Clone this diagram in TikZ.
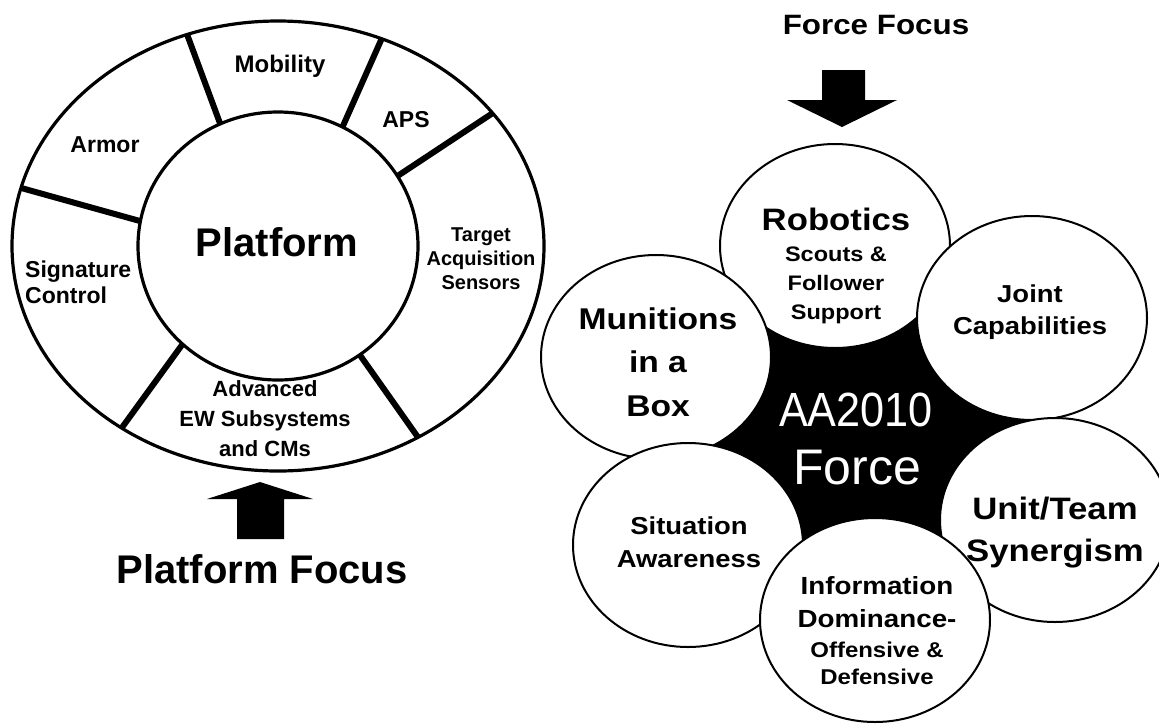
\documentclass[tikz,border=0pt]{standalone}
\usepackage{fontspec}
\setmainfont{Liberation Sans}
\usepackage{tikz}
\usetikzlibrary{calc}
\newcommand{\fsz}[2]{\fontsize{#1}{#2}\selectfont}
\tikzset{petal/.style={draw=black, line width=2pt, fill=white},
divider/.style={line width=6pt},
rim/.style={line width=3.2pt},
lbl/.style={font=\bfseries, align=center, inner sep=0pt},
rlbl/.style={lbl, xscale=1.12}}

\begin{document}
\begin{tikzpicture}[x=1pt, y=-1pt]
        \useasboundingbox (0,0) rectangle (1159,724);

        % platform ring
        \coordinate (ring) at (278,246);
        \begin{scope}
            \clip (ring) ellipse [x radius=266, y radius=225];
            \foreach \i/\o in {-115/-110, -62/-67, -31/-36, 54/58, 134/126, -170/-165}
                \draw[divider] ($(ring)+(\i:125 and 120)$) -- ($(ring)+(\o:285 and 244)$);
        \end{scope}
        \draw[rim, fill=white] (ring) ellipse [x radius=140, y radius=134];
        \draw[rim] (ring) ellipse [x radius=266, y radius=225];

        \node[lbl, font=\bfseries\fsz{24}{28}] (mobility) at (280,66) {Mobility};
        \node[lbl, font=\bfseries\fsz{23}{27}] (aps) at (406,120) {APS};
        \node[lbl, font=\bfseries\fsz{23}{27}] (armor) at (105,145) {Armor};
        \node[lbl, font=\bfseries\fsz{40}{44}] (platform) at (277,242) {Platform};
        \node[lbl, font=\bfseries\fsz{20}{24}] (target) at (481,259) {Target\\Acquisition\\Sensors};
        \node[lbl, align=left, anchor=west, font=\bfseries\fsz{23}{26}] (signature) at (25,282) {Signature\\Control};
        \node[lbl, font=\bfseries\fsz{22}{30}] (advanced) at (265,419) {Advanced\\EW Subsystems\\and CMs};

        \fill (237,539) -- (284,539) -- (284,499) -- (313,499) -- (260,482) -- (207,499) -- (237,499) -- cycle;
        \node[lbl, font=\bfseries\fsz{40}{44}] (platformfocus) at (262,569) {Platform Focus};

        % force cluster
        \coordinate (robotics) at (835,246);
        \coordinate (joint) at (1032,318);
        \coordinate (unit) at (1055,520);
        \coordinate (info) at (875,620);
        \coordinate (situation) at (688,545);
        \coordinate (munitions) at (656,357);
        \fill (robotics) -- (joint) -- (unit) -- (info) -- (situation) -- (munitions) -- cycle;
        \foreach \c in {robotics, munitions, situation, joint, unit, info}
            \draw[petal] (\c) ellipse [x radius=115, y radius=102];

        \node[rlbl, font=\bfseries\fsz{21}{29}] (roboticstext) at (836,266) {{\fsz{31}{31}Robotics}\\[2pt]Scouts \&\\Follower\\Support};
        \node[rlbl, font=\bfseries\fsz{24.5}{32}] (jointtext) at (1030,312) {Joint\\Capabilities};
        \node[rlbl, font=\bfseries\fsz{30}{43.5}] (munitionstext) at (658,362) {Munitions\\in a\\Box};
        \node[rlbl, font=\bfseries\fsz{24.5}{33}] (situationtext) at (689,542) {Situation\\Awareness};
        \node[rlbl, font=\bfseries\fsz{21.4}{27}] (infotext) at (877,631) {{\fsz{24.8}{33}Information}\\[6pt]{\fsz{24.8}{33}Dominance-}\\[3pt]Offensive \&\\Defensive};
        \node[rlbl, font=\bfseries\fsz{31}{42}] (unittext) at (1055,533) {Unit/Team\\Synergism};
        \node[inner sep=0pt, text=white, xscale=.9, font=\fsz{48}{48}] (aa) at (856,410) {AA2010};
        \node[inner sep=0pt, text=white, font=\fsz{50}{50}] (force) at (857,468) {Force};

        \fill (822,70) -- (865,70) -- (865,100) -- (897,100) -- (842,127) -- (787,100) -- (822,100) -- cycle;
        \node[rlbl, font=\bfseries\fsz{28}{28}] (forcefocus) at (876,25) {Force Focus};
\end{tikzpicture}
\end{document}
